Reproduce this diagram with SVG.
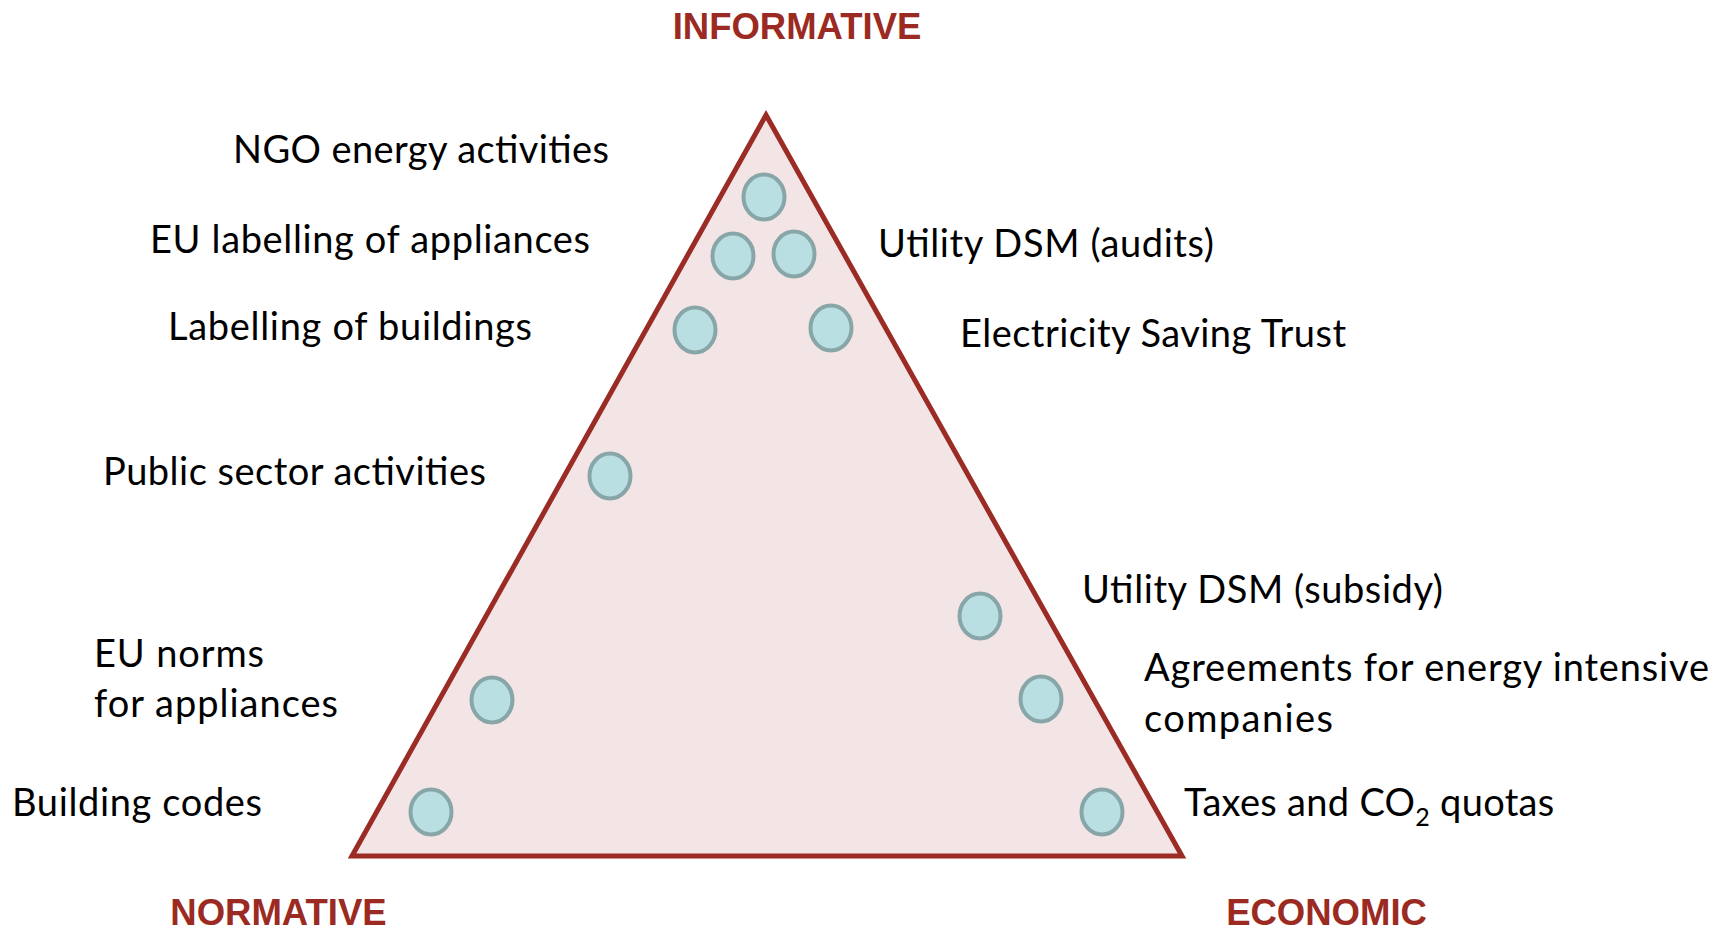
<svg xmlns="http://www.w3.org/2000/svg" width="1723" height="933" viewBox="0 0 1723 933">
<style>
.lbl{font-family:Lato,"Open Sans","Liberation Sans",sans-serif;font-size:38px;fill:#000}
.corner{font-family:"Liberation Sans",Arial,sans-serif;font-size:36.5px;font-weight:bold;fill:#9b2a22;text-anchor:middle}
.dot{fill:#b9dfe2;stroke:#88a6a7;stroke-width:4}
.tri{fill:#f3e5e6;stroke:#9a2b25;stroke-width:5;stroke-linejoin:miter}
</style>
<rect width="1723" height="933" fill="#ffffff"/>
<g id="triangle">
<polygon class="tri" points="766,115 1182,856 352,856"/>
</g>
<g id="connectors"/>
<g id="corner-informative"><text class="corner" x="797" y="39">INFORMATIVE</text></g>
<g id="corner-normative"><text class="corner" x="278.5" y="925">NORMATIVE</text></g>
<g id="corner-economic"><text class="corner" x="1326.5" y="925">ECONOMIC</text></g>
<g id="ngo"><ellipse class="dot" cx="764" cy="197" rx="20.5" ry="22.5"/><text class="lbl" x="233" y="163" textLength="376">NGO energy activities</text></g>
<g id="eu-labelling"><ellipse class="dot" cx="733" cy="256" rx="20.5" ry="22.5"/><text class="lbl" x="150" y="253" textLength="440">EU labelling of appliances</text></g>
<g id="utility-audits"><ellipse class="dot" cx="794" cy="254" rx="20.5" ry="22.5"/><text class="lbl" x="878" y="257" textLength="336">Utility DSM (audits)</text></g>
<g id="labelling-buildings"><ellipse class="dot" cx="695" cy="330" rx="20.5" ry="22.5"/><text class="lbl" x="168" y="340" textLength="364">Labelling of buildings</text></g>
<g id="electricity-saving"><ellipse class="dot" cx="831" cy="328" rx="20.5" ry="22.5"/><text class="lbl" x="960" y="347" textLength="386">Electricity Saving Trust</text></g>
<g id="public-sector"><ellipse class="dot" cx="610" cy="476" rx="20.5" ry="22.5"/><text class="lbl" x="103" y="485" textLength="383">Public sector activities</text></g>
<g id="utility-subsidy"><ellipse class="dot" cx="980" cy="616" rx="20.5" ry="22.5"/><text class="lbl" x="1082" y="603" textLength="361">Utility DSM (subsidy)</text></g>
<g id="eu-norms"><ellipse class="dot" cx="492" cy="700" rx="20.5" ry="22.5"/><text class="lbl" x="94" y="667" textLength="170">EU norms</text><text class="lbl" x="94" y="717" textLength="244">for appliances</text></g>
<g id="agreements"><ellipse class="dot" cx="1041" cy="699" rx="20.5" ry="22.5"/><text class="lbl" x="1144" y="681" textLength="565">Agreements for energy intensive</text><text class="lbl" x="1144" y="732" textLength="189">companies</text></g>
<g id="building-codes"><ellipse class="dot" cx="431" cy="812" rx="20.5" ry="22.5"/><text class="lbl" x="12" y="816" textLength="250">Building codes</text></g>
<g id="taxes"><ellipse class="dot" cx="1102" cy="812" rx="20.5" ry="22.5"/><text class="lbl" x="1184" y="816" letter-spacing="0.3">Taxes and CO<tspan font-size="25" dy="10">2</tspan><tspan dy="-10"> quotas</tspan></text></g>
</svg>
